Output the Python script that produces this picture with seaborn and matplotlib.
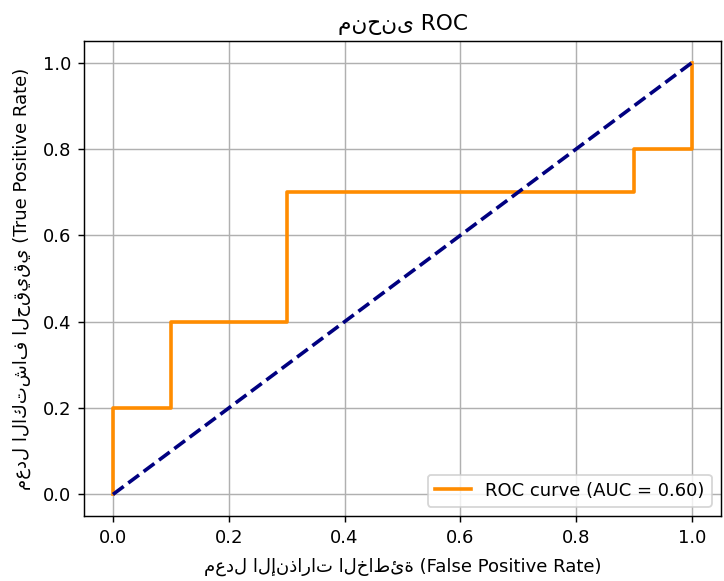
import numpy as np
import pandas as pd
import seaborn as sns
import matplotlib.pyplot as plt

# --- Data ---
FPR = [0.0, 0.0, 0.1, 0.1, 0.3, 0.3, 0.9, 0.9, 1.0, 1.0]
TPR = [0.0, 0.2, 0.2, 0.4, 0.4, 0.7, 0.7, 0.8, 0.8, 1.0]
DIAG_X = [0.0, 1.0]
DIAG_Y = [0.0, 1.0]
AUC = 0.60

TITLE = 'منحنى ROC'
XLABEL = 'معدل الإنذارات الخاطئة (False Positive Rate)'
YLABEL = 'معدل الاكتشاف الحقيقي (True Positive Rate)'

roc_df = pd.DataFrame({'fpr': FPR, 'tpr': TPR})
diag_df = pd.DataFrame({'x': DIAG_X, 'y': DIAG_Y})

# reference looks like a default figure scaled up ~1.3x
DPI = 130
fig, ax = plt.subplots(figsize=(724 / DPI, 581 / DPI), dpi=DPI)

sns.lineplot(data=roc_df, x='fpr', y='tpr', sort=False, estimator=None,
             color='darkorange', linewidth=2,
             label=f'ROC curve (AUC = {AUC:.2f})', ax=ax)
sns.lineplot(data=diag_df, x='x', y='y', sort=False, estimator=None,
             color='navy', linewidth=2, linestyle='--', ax=ax)

ax.set_title(TITLE)
ax.set_xlabel(XLABEL, labelpad=6)
ax.set_ylabel(YLABEL, labelpad=6.5)
ax.legend(loc='lower right')
ax.grid(True)

fig.subplots_adjust(left=84 / 724, right=721 / 724, top=1 - 41 / 581, bottom=1 - 516 / 581)
fig.savefig('out.png', dpi=DPI)
